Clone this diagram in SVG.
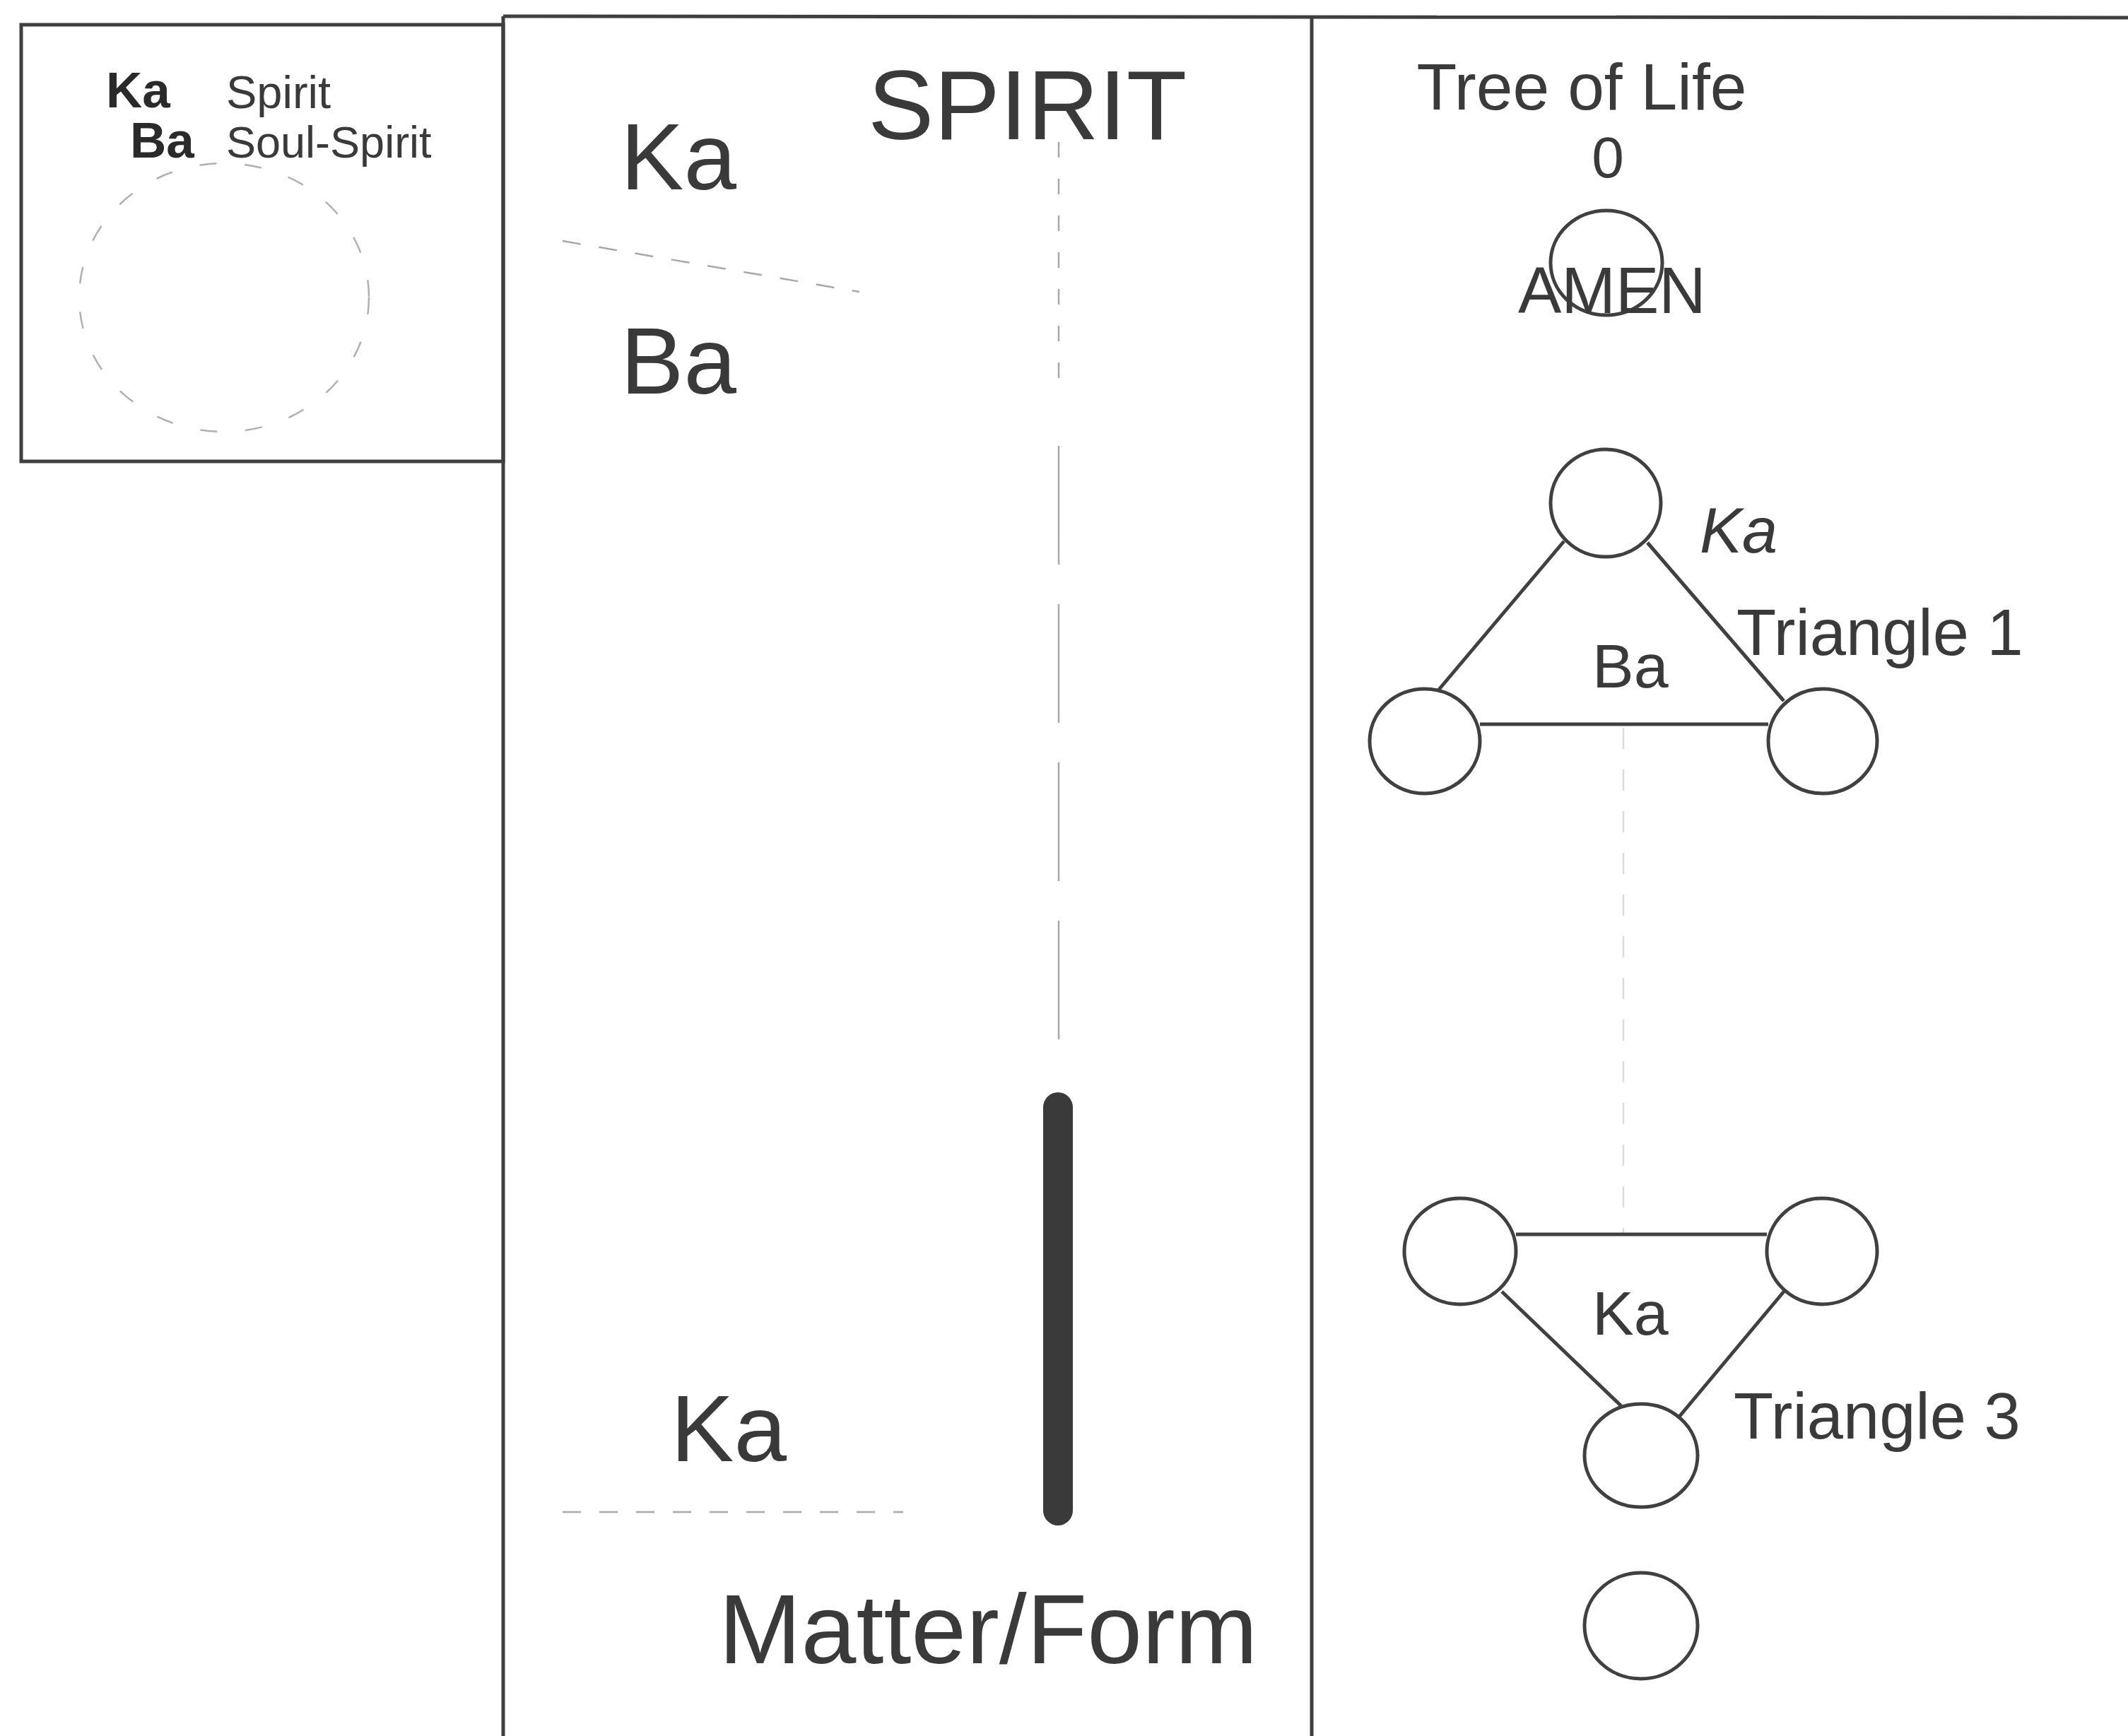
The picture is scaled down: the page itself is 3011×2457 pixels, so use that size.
<svg xmlns="http://www.w3.org/2000/svg" width="3011" height="2457" viewBox="0 0 3011 2457">
<style>
.t{font-family:"Liberation Sans",Arial,sans-serif;fill:#3a3a3a}
.b{font-weight:bold;fill:#2a2a2a}
.frame{fill:none;stroke:#3f3f3f;stroke-width:5}
.node{fill:none;stroke:#404040;stroke-width:5}
.edge{stroke:#404040;stroke-width:5;fill:none}
.dash{stroke:#a8a8a8;stroke-width:2.5;fill:none}
</style>
<rect width="3011" height="2457" fill="#ffffff"/>
<g id="frames">
<rect class="frame" x="30" y="35" width="682" height="618"/>
<line class="frame" x1="712" y1="23" x2="3011" y2="25" stroke-width="6"/>
<line class="frame" x1="712" y1="23" x2="712" y2="2457"/>
<line class="frame" x1="1856" y1="23" x2="1856" y2="2457"/>
</g>
<g id="legend">
<text class="t b" x="150" y="152" font-size="71">Ka</text>
<text class="t" x="320" y="153" font-size="65">Spirit</text>
<text class="t b" x="184" y="223" font-size="71">Ba</text>
<text class="t" x="320" y="223" font-size="63">Soul-Spirit</text>
<ellipse cx="317" cy="421" rx="205" ry="190" fill="none" stroke="#b0b0b0" stroke-width="2.5" stroke-dasharray="24 40"/>
</g>
<g id="spirit-column">
<text class="t" x="878" y="268" font-size="134">Ka</text>
<text class="t" x="1228" y="197" font-size="140">SPIRIT</text>
<text class="t" x="878" y="557" font-size="134">Ba</text>
<text class="t" x="949" y="2068" font-size="134">Ka</text>
<text class="t" x="1017" y="2354" font-size="140">Matter/Form</text>
</g>
<g id="connectors">
<line class="dash" x1="796" y1="341" x2="1216" y2="413" stroke-dasharray="26 26"/>
<line class="dash" x1="1498" y1="201" x2="1498" y2="560" stroke-dasharray="22 30"/>
<line class="dash" x1="1498" y1="631" x2="1498" y2="1491" stroke-dasharray="168 56"/>
<line x1="1497" y1="1567" x2="1497" y2="2138" stroke="#3a3a3a" stroke-width="42" stroke-linecap="round"/>
<line class="dash" x1="796" y1="2140" x2="1278" y2="2140" stroke-dasharray="26 26"/>
<line class="edge" x1="2213" y1="766" x2="2035" y2="977"/>
<line class="edge" x1="2331" y1="768" x2="2524" y2="992"/>
<line class="edge" x1="2094" y1="1025" x2="2502" y2="1025"/>
<line x1="2297" y1="1030" x2="2297" y2="1745" stroke="#dcdcdc" stroke-width="2.5" stroke-dasharray="30 29"/>
<line class="edge" x1="2145" y1="1747" x2="2500" y2="1747"/>
<line class="edge" x1="2125" y1="1828" x2="2294" y2="1990"/>
<line class="edge" x1="2524" y1="1828" x2="2376" y2="2005"/>
</g>
<g id="tree-title">
<text class="t" x="2238" y="155" font-size="93" text-anchor="middle">Tree of Life</text>
<text class="t" x="2275" y="251" font-size="82" text-anchor="middle">0</text>
</g>
<g id="node-amen">
<ellipse class="node" cx="2273" cy="372" rx="79" ry="74"/>
<text class="t" x="2148" y="443" font-size="92">AMEN</text>
</g>
<g id="node-t1-top"><ellipse class="node" cx="2272" cy="712" rx="78" ry="76"/></g>
<g id="node-t1-left"><ellipse class="node" cx="2016" cy="1049" rx="78" ry="74"/></g>
<g id="node-t1-right"><ellipse class="node" cx="2579" cy="1049" rx="77" ry="74"/></g>
<g id="triangle1-labels">
<text class="t" x="2405" y="782" font-size="90" font-style="italic">Ka</text>
<text class="t" x="2457" y="927" font-size="92">Triangle 1</text>
<text class="t" x="2253" y="973" font-size="88">Ba</text>
</g>
<g id="node-t3-left"><ellipse class="node" cx="2066" cy="1771" rx="79" ry="75"/></g>
<g id="node-t3-right"><ellipse class="node" cx="2578" cy="1771" rx="78" ry="75"/></g>
<g id="node-t3-bottom"><ellipse class="node" cx="2322" cy="2060" rx="80" ry="73"/></g>
<g id="triangle3-labels">
<text class="t" x="2253" y="1889" font-size="88">Ka</text>
<text class="t" x="2453" y="2036" font-size="92">Triangle 3</text>
</g>
<g id="node-last"><ellipse class="node" cx="2322" cy="2301" rx="80" ry="75"/></g>
</svg>
